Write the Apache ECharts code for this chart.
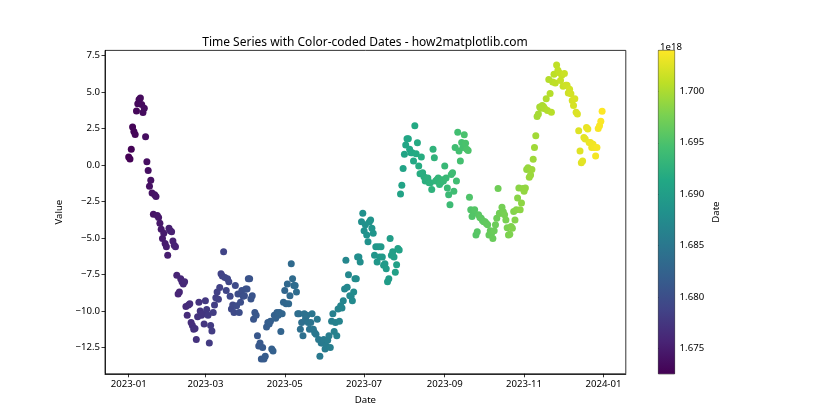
<!DOCTYPE html>
<html>
<head>
<meta charset="utf-8">
<script src="https://cdn.jsdelivr.net/npm/echarts@6/dist/echarts.min.js"></script>
<style>html,body{margin:0;padding:0;background:#fff}#c{width:840px;height:420px}</style>
</head>
<body>
<div id="c"></div>
<script>
// ---- data ----
const startDate = '2023-01-01';      // daily series, one point per day
const values = [
  0.55, 0.42, 1.08, 2.6, 2.3, 2.1, 3.7, 4.2, 4.5, 4.6,
  4.15, 3.6, 3.9, 1.94, 0.23, -0.37, -1.45, -1.04, -1.92, -3.37,
  -2.03, -2.15, -3.46, -3.6, -3.99, -4.4, -5.03, -4.68, -5.38, -5.6,
  -6.18, -4.34, -4.5, -4.57, -5.2, -5.49, -5.6, -7.56, -8.84, -8.7,
  -7.8, -8.0, -8.15, -8.0, -9.69, -10.3, -9.6, -9.5, -10.8, -11.0,
  -11.26, -11.2, -11.95, -10.4, -9.4, -10.0, -10.3, -10.2, -10.9, -9.3,
  -9.9, -10.3, -12.2, -11.0, -11.37, -10.1, -9.6, -9.1, -8.7, -9.2,
  -8.4, -7.45, -7.6, -5.95, -7.7, -8.6, -7.8, -8.0, -9.0, -9.87,
  -9.6, -10.1, -8.26, -9.64, -8.84, -10.1, -9.4, -8.6, -9.0, -8.95,
  -8.5, -8.5, -7.8, -7.8, -9.18, -8.95, -10.57, -10.1, -10.3, -11.7,
  -12.4, -12.2, -13.3, -12.5, -13.3, -13.1, -11.1, -10.8, -10.9, -10.7,
  -12.6, -12.75, -10.3, -10.5, -10.1, -10.3, -10.1, -11.4, -10.2, -9.4,
  -8.6, -9.5, -8.15, -9.5, -8.95, -6.76, -7.8, -8.26, -8.26, -8.7,
  -10.2, -10.2, -11.26, -10.8, -11.7, -10.2, -10.5, -10.3, -10.8, -11.26,
  -10.8, -10.2, -11.26, -11.5, -11.6, -10.57, -11.95, -13.1, -12.2, -12.2,
  -11.95, -12.6, -12.4, -12.0, -11.7, -12.5, -10.7, -10.2, -11.4, -10.8,
  -11.7, -9.87, -10.7, -9.64, -9.8, -9.3, -8.5, -6.53, -8.37, -7.52,
  -8.95, -9.0, -9.3, -8.7, -7.8, -7.8, -6.3, -6.3, -6.64, -3.88,
  -3.3, -4.5, -4.1, -4.8, -5.26, -3.9, -3.76, -4.34, -4.68, -6.18,
  -5.6, -6.64, -5.6, -6.3, -5.6, -6.3, -6.87, -6.76, -7.1, -8.0,
  -7.8, -5.03, -6.18, -5.95, -6.3, -7.34, -6.83, -5.72, -5.83, -1.98,
  -1.38, -0.23, 0.74, 1.38, 1.8, 1.8, 1.09, 0.85, 0.85, 0.28,
  2.7, 0.78, 1.52, -0.07, -0.6, 0.55, -0.53, -0.8, -1.1, -0.9,
  -0.88, -1.22, -1.22, -1.68, 1.09, 0.5, -1.1, -1.0, -0.88, -1.34,
  -1.2, -1.0, -1.1, -0.07, -0.88, -1.57, -2.03, -2.72, -0.64, -0.53,
  -1.8, 1.2, -1.1, 2.24, 0.97, 0.28, 1.55, 1.2, 2.08, 1.5,
  1.09, 1.0, -2.2, -3.07, -3.53, -3.3, -3.07, -4.8, -4.57, -3.41,
  -3.6, -3.65, -3.8, -3.88, -3.88, -4.0, -4.1, -4.8, -4.5, -4.68,
  -5.03, -4.5, -4.1, -3.65, -1.61, -3.3, -3.3, -2.9, -3.2, -3.41,
  -3.76, -4.3, -4.8, -4.75, -4.22, -4.34, -3.18, -3.76, -3.07, -2.26,
  -1.57, -3.07, -2.6, -1.61, -1.8, -1.57, -0.3, -0.19, -0.83, -0.69,
  -0.3, 0.39, 1.2, 2.0, 3.32, 3.5, 3.97, 3.9, 4.08, 4.0,
  3.85, 4.55, 3.74, 5.86, 4.9, 3.62, 5.7, 6.23, 5.63, 6.85,
  6.5, 6.32, 5.8, 6.16, 5.4, 6.28, 5.47, 5.47, 4.93, 5.2,
  4.89, 4.43, 4.08, 4.55, 3.62, 3.5, 2.35, 0.97, 0.16, 0.28,
  1.89, 1.78, 2.58, 2.47, 1.55, 1.55, 1.2, 1.43, 1.2, 0.62,
  1.2, 2.5, 2.7, 3.0, 3.69
];
const xTickDates = ['2023-01-01','2023-03-01','2023-05-01','2023-07-01','2023-09-01','2023-11-01','2024-01-01'];
const xTickLabels = ['2023-01','2023-03','2023-05','2023-07','2023-09','2023-11','2024-01'];
const yTicks = [-12.5, -10.0, -7.5, -5.0, -2.5, 0.0, 2.5, 5.0, 7.5];
const cbTicks = [1.675, 1.680, 1.685, 1.690, 1.695, 1.700];
const viridis = ['#440154','#482475','#414487','#355f8d','#2a788e','#21918c','#22a884','#44bf70','#7ad151','#bddf26','#fde725'];

// ---- build ----
const DAY = 86400000;
const t0 = Date.parse(startDate + 'T00:00:00Z');
const points = values.map((v, i) => [t0 + i * DAY, v]);
const tMin = points[0][0], tMax = points[points.length - 1][0];
const span = tMax - tMin;
const xMin = tMin - 0.05 * span, xMax = tMax + 0.05 * span;
let vMin = Math.min(...values), vMax = Math.max(...values);
const vSpan = vMax - vMin;
const yMin = vMin - 0.05 * vSpan, yMax = vMax + 0.05 * vSpan;
const xTickVals = xTickDates.map(d => Date.parse(d + 'T00:00:00Z'));
const cbMin = tMin / 1e18 * 1e6, cbMax = tMax / 1e18 * 1e6; // ms -> ns, in units of 1e18
const minus = s => s.replace('-', '\u2212');

const chart = echarts.init(document.getElementById('c'), null, {renderer: 'canvas'});
const FONT = 'Noto Sans';
const FS = 9.6;
const gradStops = viridis.map((c, i) => ({offset: i / (viridis.length - 1), color: c}));

chart.setOption({
  animation: false,
  backgroundColor: '#fff',
  textStyle: {fontFamily: FONT},
  title: [
    {text: 'Time Series with Color-coded Dates - how2matplotlib.com', left: 360, top: 31.5, textAlign: 'center',
     textStyle: {fontFamily: FONT, fontSize: 12, fontWeight: 'normal', color: '#000'}},
    {text: '1e18', left: 655, top: 37, textStyle: {fontFamily: FONT, fontSize: FS, fontWeight: 'normal', color: '#000'}}
  ],
  grid: [
    {left: 105, top: 50.4, width: 520.8, height: 323.4, show: true, borderColor: '#000', borderWidth: 0.8, backgroundColor: 'transparent'},
    {left: 658.4, top: 50.4, width: 16.2, height: 323.4, show: true, borderColor: '#000', borderWidth: 0.8, backgroundColor: 'transparent'}
  ],
  visualMap: {
    type: 'continuous', show: false, seriesIndex: 0, dimension: 0,
    min: tMin, max: tMax, inRange: {color: viridis}
  },
  xAxis: [
    {type: 'value', gridIndex: 0, min: xMin, max: xMax,
     name: 'Date', nameLocation: 'middle', nameGap: 21,
     nameTextStyle: {fontFamily: FONT, fontSize: FS, color: '#000'},
     axisLine: {show: true, onZero: false, lineStyle: {color: '#000', width: 0.8}},
     axisTick: {show: true, length: 3.5, lineStyle: {color: '#000', width: 0.8}, customValues: xTickVals},
     axisLabel: {fontFamily: FONT, fontSize: FS, color: '#000', margin: 5, customValues: xTickVals,
       formatter: v => { const k = xTickVals.indexOf(v); return k >= 0 ? xTickLabels[k] : ''; }},
     splitLine: {show: false}},
    {type: 'value', gridIndex: 1, min: 0, max: 1, show: false}
  ],
  yAxis: [
    {type: 'value', gridIndex: 0, min: yMin, max: yMax,
     name: 'Value', nameLocation: 'middle', nameGap: 38, nameRotate: 90,
     nameTextStyle: {fontFamily: FONT, fontSize: FS, color: '#000'},
     axisLine: {show: true, onZero: false, lineStyle: {color: '#000', width: 0.8}},
     axisTick: {show: true, length: 3.5, lineStyle: {color: '#000', width: 0.8}, customValues: yTicks},
     axisLabel: {fontFamily: FONT, fontSize: FS, color: '#000', margin: 5, customValues: yTicks,
       formatter: v => minus(v.toFixed(1))},
     splitLine: {show: false}},
    {type: 'value', gridIndex: 1, min: cbMin, max: cbMax, position: 'right',
     name: 'Date', nameLocation: 'middle', nameGap: 37, nameRotate: 90,
     nameTextStyle: {fontFamily: FONT, fontSize: FS, color: '#000'},
     axisLine: {show: false},
     axisTick: {show: true, length: 3.5, lineStyle: {color: '#000', width: 0.8}, customValues: cbTicks},
     axisLabel: {fontFamily: FONT, fontSize: FS, color: '#000', margin: 5, customValues: cbTicks,
       formatter: v => v.toFixed(3)},
     splitLine: {show: false}}
  ],
  series: [
    {type: 'scatter', xAxisIndex: 0, yAxisIndex: 0, data: points, symbolSize: 7,
     itemStyle: {opacity: 1}, emphasis: {disabled: true}},
    {type: 'custom', xAxisIndex: 1, yAxisIndex: 1, data: [[0, cbMin, cbMax]], silent: true,
     renderItem: (params, api) => {
       const lo = api.coord([0, api.value(1)]);
       const hi = api.coord([0, api.value(2)]);
       const cs = params.coordSys;
       return {type: 'rect', shape: {x: cs.x, y: hi[1], width: cs.width, height: lo[1] - hi[1]},
         style: {fill: new echarts.graphic.LinearGradient(0, 1, 0, 0, gradStops)}};
     }}
  ]
});
</script>
</body>
</html>
